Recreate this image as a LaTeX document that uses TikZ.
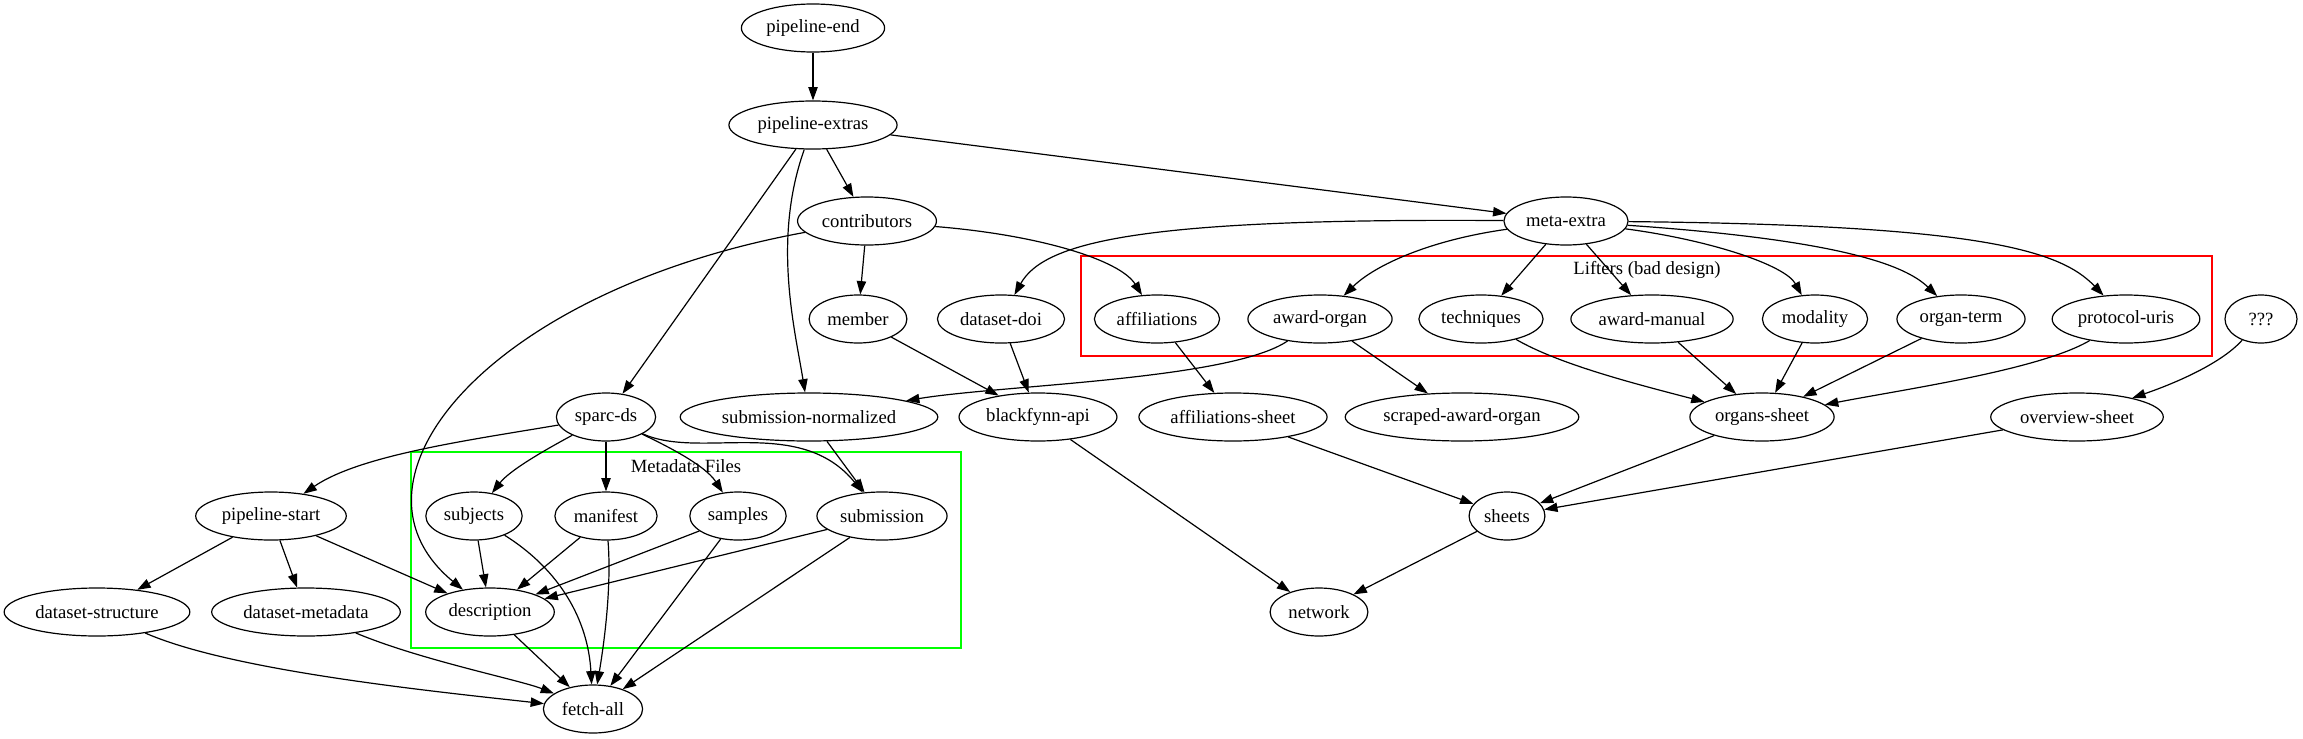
\documentclass[tikz,border=0pt]{standalone}
\usepackage{fontspec}
\setmainfont{Liberation Serif}
\usetikzlibrary{arrows.meta,shapes.geometric}
\definecolor{lifter-red}{RGB}{255,0,0}
\definecolor{meta-green}{RGB}{0,255,0}

\begin{document}
\begin{tikzpicture}[x=0.75pt, y=-0.75pt,
    every node/.style={font=\fontsize{14}{16}\selectfont},
    dep/.style={draw, ellipse, line width=0.9pt, minimum height=36pt, minimum width=54pt, inner xsep=3pt, inner ysep=2pt},
    link/.style={line width=0.9pt, -{Triangle[length=10pt,width=7pt]}}]
  \useasboundingbox (0,0) rectangle (2303,739);

  % Clusters
  \draw[meta-green, line width=0.9pt] (411,452) rectangle (961,648);
  \node (metafiles) at (686,466) {Metadata Files};
  \draw[lifter-red, line width=0.9pt] (1081,256) rectangle (2212,356);
  \node (lifters) at (1647,270) {Lifters (bad design)};

  % Top of the pipeline
  \node[dep] (pipeline-end) at (813,28) {pipeline-end};
  \node[dep] (pipeline-extras) at (813,125) {pipeline-extras};
  \node[dep] (contributors) at (867,221) {contributors};
  \node[dep] (meta-extra) at (1566,221) {meta-extra};

  % Row of lifters
  \node[dep] (member) at (858,319) {member};
  \node[dep] (dataset-doi) at (1001,319) {dataset-doi};
  \node[dep] (affiliations) at (1157,319) {affiliations};
  \node[dep] (award-organ) at (1320,319) {award-organ};
  \node[dep] (techniques) at (1481,319) {techniques};
  \node[dep] (award-manual) at (1652,319) {award-manual};
  \node[dep] (modality) at (1815,319) {modality};
  \node[dep] (organ-term) at (1961,319) {organ-term};
  \node[dep] (protocol-uris) at (2126,319) {protocol-uris};
  \node[dep] (unknown) at (2261,319) {???};

  % Middle row
  \node[dep] (sparc-ds) at (606,417) {sparc-ds};
  \node[dep] (submission-normalized) at (809,417) {submission-normalized};
  \node[dep] (blackfynn-api) at (1038,417) {blackfynn-api};
  \node[dep] (affiliations-sheet) at (1233,417) {affiliations-sheet};
  \node[dep] (scraped-award-organ) at (1462,417) {scraped-award-organ};
  \node[dep] (organs-sheet) at (1762,417) {organs-sheet};
  \node[dep] (overview-sheet) at (2077,417) {overview-sheet};

  % Metadata files
  \node[dep] (pipeline-start) at (271,516) {pipeline-start};
  \node[dep] (subjects) at (474,516) {subjects};
  \node[dep] (manifest) at (606,516) {manifest};
  \node[dep] (samples) at (738,516) {samples};
  \node[dep] (submission) at (882,516) {submission};
  \node[dep] (sheets) at (1507,516) {sheets};

  % Bottom
  \node[dep] (dataset-structure) at (97,612) {dataset-structure};
  \node[dep] (dataset-metadata) at (306,612) {dataset-metadata};
  \node[dep] (description) at (490,612) {description};
  \node[dep] (network) at (1319,612) {network};
  \node[dep] (fetch-all) at (593,709) {fetch-all};

  % Edges from the top
  \draw[link] (pipeline-end) -- (pipeline-extras);
  \draw[link] (pipeline-extras) -- (contributors);
  \draw[link] (pipeline-extras) -- (meta-extra);
  \draw[link] (pipeline-extras) -- (sparc-ds);
  \draw[link] (pipeline-extras) .. controls (772,240) and (795,330) .. (submission-normalized);
  \draw[link] (contributors) -- (member);
  \draw[link] (contributors) .. controls (1040,235) and (1120,260) .. (affiliations);
  \draw[link] (contributors) .. controls (490,290) and (330,480) .. (description);

  % Edges from meta-extra
  \draw[link] (meta-extra) .. controls (1150,218) and (1045,240) .. (dataset-doi);
  \draw[link] (meta-extra) .. controls (1430,240) and (1375,265) .. (award-organ);
  \draw[link] (meta-extra) -- (techniques);
  \draw[link] (meta-extra) -- (award-manual);
  \draw[link] (meta-extra) .. controls (1710,240) and (1785,265) .. (modality);
  \draw[link] (meta-extra) .. controls (1840,240) and (1905,265) .. (organ-term);
  \draw[link] (meta-extra) .. controls (1980,225) and (2060,250) .. (protocol-uris);

  % Lifters to sheets
  \draw[link] (member) -- (blackfynn-api);
  \draw[link] (dataset-doi) -- (blackfynn-api);
  \draw[link] (affiliations) -- (affiliations-sheet);
  \draw[link] (award-organ) .. controls (1230,380) and (1000,385) .. (submission-normalized);
  \draw[link] (award-organ) -- (scraped-award-organ);
  \draw[link] (techniques) .. controls (1560,365) and (1640,385) .. (organs-sheet);
  \draw[link] (award-manual) -- (organs-sheet);
  \draw[link] (modality) -- (organs-sheet);
  \draw[link] (organ-term) -- (organs-sheet);
  \draw[link] (protocol-uris) .. controls (2040,370) and (1900,390) .. (organs-sheet);
  \draw[link] (unknown) .. controls (2220,365) and (2170,385) .. (overview-sheet);
  \draw[link] (blackfynn-api) -- (network);
  \draw[link] (affiliations-sheet) -- (sheets);
  \draw[link] (organs-sheet) -- (sheets);
  \draw[link] (overview-sheet) -- (sheets);
  \draw[link] (sheets) -- (network);

  % sparc-ds and metadata files
  \draw[link] (submission-normalized) -- (submission);
  \draw[link] (sparc-ds) .. controls (470,440) and (360,455) .. (pipeline-start);
  \draw[link] (sparc-ds) .. controls (545,450) and (510,470) .. (subjects);
  \draw[link] (sparc-ds) -- (manifest);
  \draw[link] (sparc-ds) .. controls (665,445) and (705,465) .. (samples);
  \draw[link] (sparc-ds) .. controls (700,460) and (800,415) .. (submission);
  \draw[link] (pipeline-start) -- (dataset-structure);
  \draw[link] (pipeline-start) -- (dataset-metadata);
  \draw[link] (pipeline-start) -- (description);
  \draw[link] (subjects) -- (description);
  \draw[link] (subjects) .. controls (560,570) and (588,620) .. (fetch-all);
  \draw[link] (manifest) -- (description);
  \draw[link] (manifest) .. controls (612,590) and (603,650) .. (fetch-all);
  \draw[link] (samples) -- (description);
  \draw[link] (samples) -- (fetch-all);
  \draw[link] (submission) -- (description);
  \draw[link] (submission) -- (fetch-all);
  \draw[link] (dataset-structure) .. controls (230,670) and (420,690) .. (fetch-all);
  \draw[link] (dataset-metadata) .. controls (420,660) and (520,680) .. (fetch-all);
  \draw[link] (description) -- (fetch-all);
\end{tikzpicture}
\end{document}
